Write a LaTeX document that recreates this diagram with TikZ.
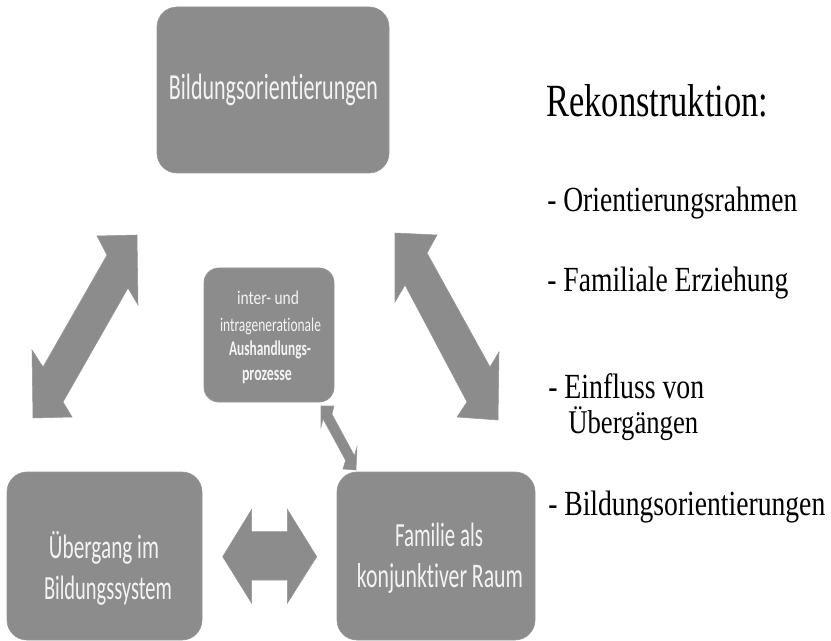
\documentclass[tikz,border=0pt]{standalone}
\usepackage{fontspec}
\usepackage{graphicx}
\setmainfont{Liberation Serif}
\newfontfamily\calib[Ligatures={NoCommon}]{Carlito}
\newdimen\pxu \pxu=0.75pt
\definecolor{boxgray}{RGB}{140,140,140}
\definecolor{edgegray}{RGB}{150,150,150}
\definecolor{boxtext}{RGB}{243,243,243}
\newcommand\fitline[3]{\resizebox{#1\pxu}{#2\pxu}{\smash{#3}\vphantom{h}}}
\tikzset{
  bx/.style={draw=edgegray, line width=0.5pt, fill=boxgray, rounded corners=15pt, inner sep=0pt},
  bxtxt/.style={inner sep=0pt, anchor=base, text=boxtext, font=\calib},
  rtxt/.style={inner sep=0pt, anchor=base west, text=black},
  blockarrow/.style={fill=boxgray, draw=edgegray, line width=0.4pt, line join=miter}
}
\begin{document}
\begin{tikzpicture}[x=0.75pt, y=-0.75pt]
\useasboundingbox (0,0) rectangle (831,641);
% boxes
\node[bx, minimum width=232\pxu, minimum height=166\pxu] (top) at (273,90) {};
\node[bx, minimum width=130\pxu, minimum height=134\pxu, rounded corners=11pt] (mid) at (269,335) {};
\node[bx, minimum width=195\pxu, minimum height=168\pxu] (bl) at (104.5,556) {};
\node[bx, minimum width=198\pxu, minimum height=168\pxu] (br) at (436,556) {};
% box texts
\node[bxtxt] (ttop) at (273.5,100) {\fitline{209}{25.5}{Bildungsorientierungen}};
\node[bxtxt] (tm1) at (268,305) {\fitline{62}{13.5}{inter- und}};
\node[bxtxt] (tm2) at (270.5,331) {\fitline{101}{13.5}{intragenerationale}};
\node[bxtxt] (tm3) at (270,356) {\fitline{82}{14.5}{\bfseries Aushandlungs-}};
\node[bxtxt] (tm4) at (267,380) {\fitline{50}{14.5}{\bfseries prozesse}};
\node[bxtxt] (tbl1) at (104,558) {\fitline{110}{23.5}{Übergang im}};
\node[bxtxt] (tbl2) at (108,599) {\fitline{128}{23.5}{Bildungssystem}};
\node[bxtxt] (tbr1) at (439,546) {\fitline{88}{23.5}{Familie als}};
\node[bxtxt] (tbr2) at (440,587) {\fitline{166}{24}{konjunktiver Raum}};
% block arrows
\draw[blockarrow] (137,235) -- (97,236) -- (107,255) -- (43,367) -- (32,350) -- (33,418) -- (72,417) -- (63,402) -- (128,288) -- (138,305) -- cycle;
\draw[blockarrow] (395,233) -- (437,235) -- (427,253) -- (490,367) -- (499,352) -- (498,420) -- (457,417) -- (467,402) -- (405,285) -- (395,302) -- cycle;
\draw[blockarrow] (222.7,556.7) -- (251.7,509.3) -- (251.7,531.7) -- (287.3,531.7) -- (287.3,509.3) -- (316.7,556.7) -- (287.3,603.3) -- (287.3,580) -- (251.7,580) -- (251.7,603.3) -- cycle;
\draw[blockarrow] (321,406) -- (334,406) -- (331.9,414.1) -- (354.4,455.6) -- (357,447) -- (356,470) -- (343,469) -- (345.6,460.4) -- (323.1,418.9) -- (321,427) -- cycle;
% right text
\node[rtxt] (r0) at (546,117) {\fitline{222}{32}{Rekonstruktion:}};
\node[rtxt] (r1) at (547,212) {\fitline{250}{24.5}{- Orientierungsrahmen}};
\node[rtxt] (r2) at (547,292) {\fitline{241}{24.5}{- Familiale Erziehung}};
\node[rtxt] (r3a) at (548,398) {\fitline{156}{24.5}{- Einfluss von}};
\node[rtxt] (r3b) at (568,433) {\fitline{130}{23}{Übergängen}};
\node[rtxt] (r4) at (548,515) {\fitline{277}{24.5}{- Bildungsorientierungen}};
\end{tikzpicture}
\end{document}
